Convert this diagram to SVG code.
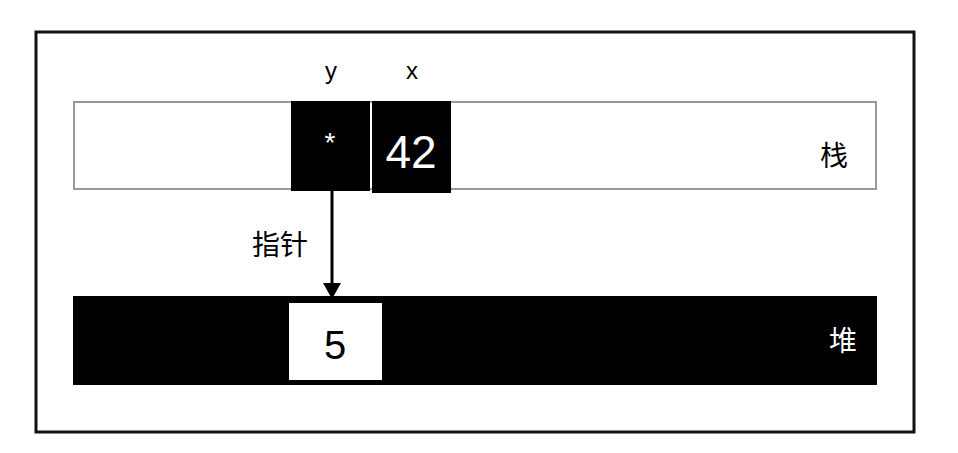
<svg xmlns="http://www.w3.org/2000/svg" width="958" height="453" viewBox="0 0 958 453">
<style>
.lat{font-family:"Liberation Sans",Arial,sans-serif;}
.cjk{font-family:"Noto Sans CJK SC","Liberation Serif",serif;}
</style>
<rect x="0" y="0" width="958" height="453" fill="#fff"/>
<rect id="frame" x="36" y="32" width="878" height="400" fill="none" stroke="#111" stroke-width="3"/>
<g id="stack">
<rect x="74" y="102" width="802" height="87" fill="#fff" stroke="#999" stroke-width="2"/>
<text class="cjk" x="834" y="166" font-size="28" text-anchor="middle" fill="#000">栈</text>
</g>
<g id="cell-y">
<rect x="291" y="101" width="79" height="90" fill="#000"/>
<text class="lat" x="331" y="79" font-size="24" text-anchor="middle" fill="#000">y</text>
<text class="lat" x="330" y="152" font-size="28" text-anchor="middle" fill="#fff">*</text>
</g>
<g id="cell-x">
<rect x="372" y="101" width="79" height="92" fill="#000"/>
<text class="lat" x="412" y="79" font-size="24" text-anchor="middle" fill="#000">x</text>
<text class="lat" x="411" y="168" font-size="46" text-anchor="middle" fill="#fff">42</text>
</g>
<g id="heap">
<rect x="73" y="296" width="804" height="89" fill="#000"/>
<text class="cjk" x="843" y="351" font-size="28" text-anchor="middle" fill="#fff">堆</text>
</g>
<g id="cell-5">
<rect x="289" y="303" width="93" height="77" fill="#fff"/>
<text class="lat" x="335" y="359" font-size="40" text-anchor="middle" fill="#000">5</text>
</g>
<g id="connectors">
<line x1="332" y1="190" x2="332" y2="284" stroke="#000" stroke-width="3"/>
<path d="M323,283 L341,283 L332,299 Z" fill="#000"/>
<text class="cjk" x="280" y="255" font-size="28" text-anchor="middle" fill="#000">指针</text>
</g>
</svg>
